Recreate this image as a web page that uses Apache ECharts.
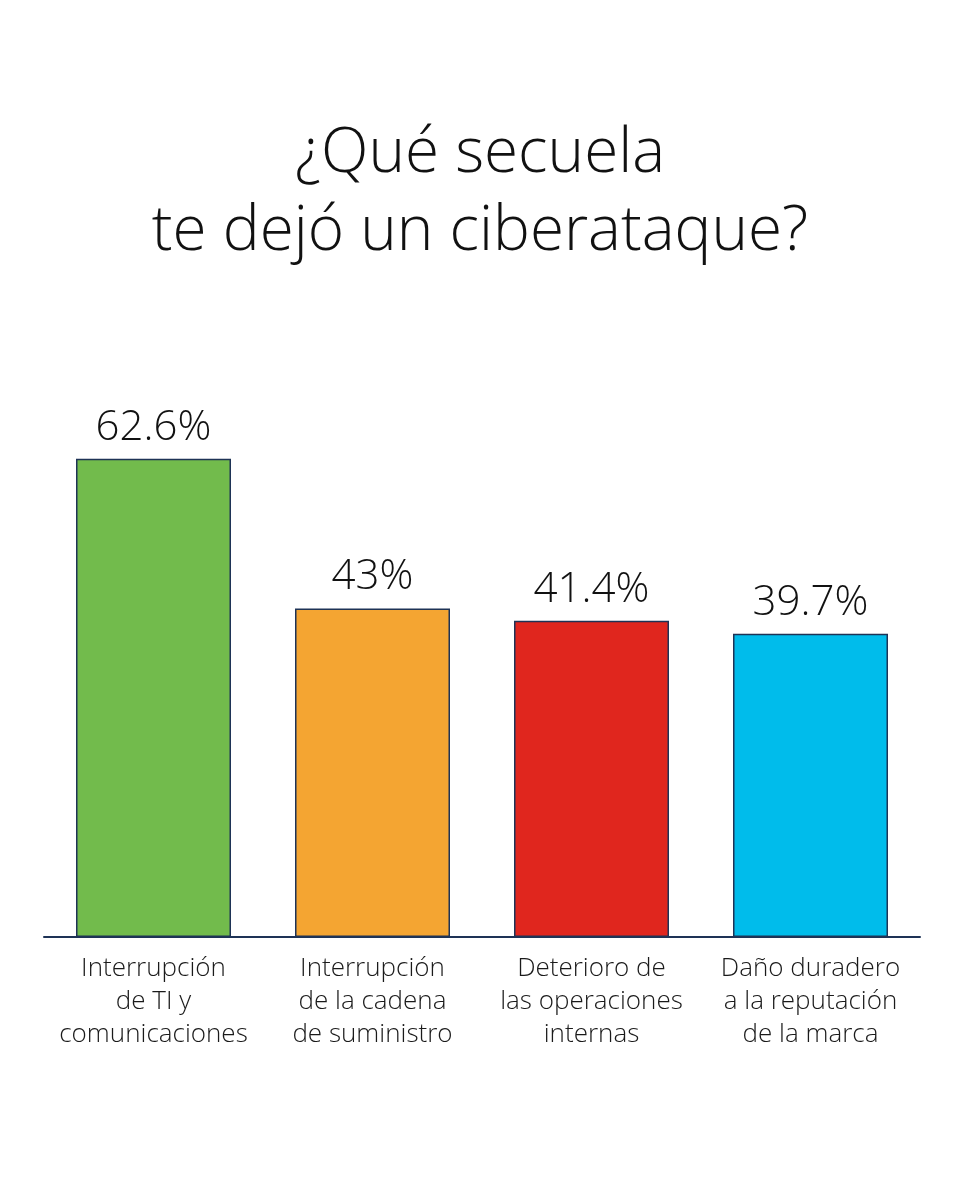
<!DOCTYPE html>
<html>
<head>
<meta charset="utf-8">
<script src="https://cdn.jsdelivr.net/npm/echarts@6/dist/echarts.min.js"></script>
<style>
  html, body { margin: 0; padding: 0; background: #fff; }
  #chart { width: 960px; height: 1200px; }
</style>
</head>
<body>
<div id="chart"></div>
<script>
const categories = [
  'Interrupción\nde TI y\ncomunicaciones',
  'Interrupción\nde la cadena\nde suministro',
  'Deterioro de\nlas operaciones\ninternas',
  'Daño duradero\na la reputación\nde la marca'
];
const values = [62.6, 43, 41.4, 39.7];
const colors = ['#72bb4c', '#f4a532', '#e0261e', '#00bceb'];

const myChart = echarts.init(document.getElementById('chart'));

const option = {
  backgroundColor: '#fff',
  title: {
    text: '¿Qué secuela\nte dejó un ciberataque?',
    left: 'center',
    top: 110,
    textStyle: {
      fontFamily: 'Open Sans',
      fontWeight: 300,
      fontSize: 62,
      lineHeight: 78,
      color: '#111'
    }
  },
  grid: { left: 44, right: 40, top: 173, bottom: 263 },
  xAxis: {
    type: 'category',
    data: categories,
    axisLine: { lineStyle: { color: '#1e3356', width: 2 } },
    axisTick: { show: false },
    axisLabel: {
      interval: 0,
      margin: 15,
      fontFamily: 'Open Sans',
      fontWeight: 300,
      fontSize: 26,
      lineHeight: 33,
      color: '#1a1a1a'
    }
  },
  yAxis: {
    type: 'value',
    min: 0,
    max: 100,
    show: false,
    splitLine: { show: false }
  },
  series: [{
    type: 'bar',
    barWidth: 155,
    data: values.map((v, i) => ({
      value: v,
      itemStyle: { color: colors[i] }
    })),
    itemStyle: { borderColor: '#1e3356', borderWidth: 1.5 },
    label: {
      show: true,
      position: 'top',
      distance: 10,
      formatter: '{c}%',
      fontFamily: 'Open Sans',
      fontWeight: 300,
      fontSize: 42,
      color: '#111'
    }
  }]
};

myChart.setOption(option);
</script>
</body>
</html>
